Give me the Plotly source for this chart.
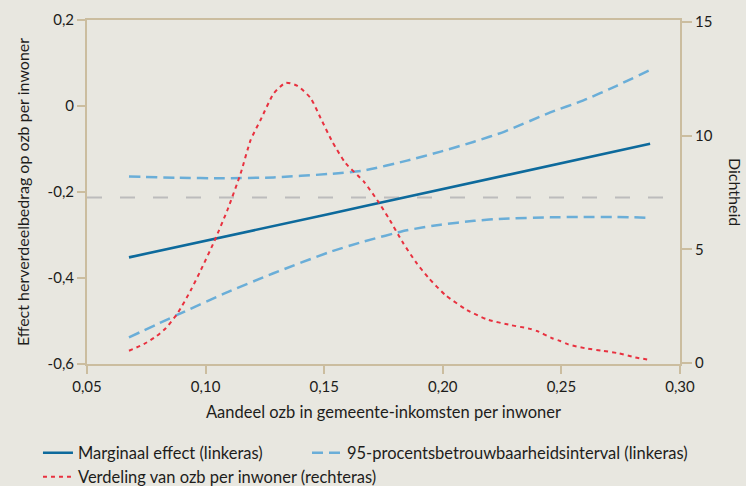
import plotly.graph_objects as go

# ---- data ----
share_x = [0.0677, 0.0880, 0.1075, 0.1286, 0.1521, 0.1668, 0.1849, 0.1991,
           0.2132, 0.2258, 0.2453, 0.2593, 0.2733, 0.2874]
marginal = [-0.352, -0.328, -0.304, -0.279, -0.251, -0.233, -0.211, -0.194,
            -0.177, -0.162, -0.139, -0.122, -0.105, -0.088]
ci_upper = [-0.164, -0.167, -0.168, -0.166, -0.158, -0.150, -0.127, -0.106,
            -0.083, -0.060, -0.015, 0.013, 0.047, 0.084]
ci_lower = [-0.538, -0.486, -0.437, -0.389, -0.340, -0.315, -0.289, -0.276,
            -0.267, -0.262, -0.259, -0.258, -0.258, -0.260]

dens_x = [0.0677, 0.0741, 0.0790, 0.0832, 0.0882, 0.0938, 0.0980, 0.1036,
          0.1092, 0.1148, 0.1190, 0.1232, 0.1288, 0.1338, 0.1387, 0.1443,
          0.1485, 0.1534, 0.1590, 0.1667, 0.1723, 0.1772, 0.1829, 0.1885,
          0.1941, 0.2011, 0.2102, 0.2186, 0.2285, 0.2361, 0.2397, 0.2461,
          0.2495, 0.2529, 0.2600, 0.2672, 0.2739, 0.2810, 0.2874]
density = [0.54, 0.84, 1.16, 1.53, 2.19, 3.21, 4.09, 5.34,
           6.73, 8.35, 9.81, 10.70, 11.87, 12.33, 12.19, 11.65,
           10.77, 9.74, 8.79, 7.98, 7.17, 6.37, 5.34, 4.46,
           3.73, 2.99, 2.33, 1.92, 1.67, 1.52, 1.41, 1.09,
           0.97, 0.82, 0.65, 0.54, 0.43, 0.25, 0.13]

ref_level = -0.213

x_ticks = [0.05, 0.10, 0.15, 0.20, 0.25, 0.30]
x_ticklabels = ["0,05", "0,10", "0,15", "0,20", "0,25", "0,30"]
y_ticks = [-0.6, -0.4, -0.2, 0, 0.2]
y_ticklabels = ["-0,6", "-0,4", "-0,2", "0", "0,2"]
y2_ticks = [0, 5, 10, 15]
y2_ticklabels = ["0", "5", "10", "15"]

# ---- styles ----
BG = "#e8e7e0"
AXIS = "#cbbd9f"
TXT = "#1d1d1b"
FONT = "Lato"

fig = go.Figure()

fig.add_trace(go.Scatter(
    x=share_x, y=marginal, mode="lines", name="Marginaal effect (linkeras)",
    line=dict(color="#0d6a9c", width=2.6), legend="legend"))
fig.add_trace(go.Scatter(
    x=share_x, y=ci_upper, mode="lines", name="95-procentsbetrouwbaarheidsinterval (linkeras)",
    line=dict(color="#6aaed8", width=2.5, dash="11px,6px", shape="spline", smoothing=0.6),
    legend="legend2"))
fig.add_trace(go.Scatter(
    x=share_x, y=ci_lower, mode="lines", name="95-procentsbetrouwbaarheidsinterval (linkeras)",
    line=dict(color="#6aaed8", width=2.5, dash="11px,6px", shape="spline", smoothing=0.6),
    showlegend=False, legend="legend2"))
fig.add_trace(go.Scatter(
    x=dens_x, y=density, mode="lines", name="Verdeling van ozb per inwoner (rechteras)",
    line=dict(color="#e8313f", width=2, dash="4px,4px", shape="spline", smoothing=0.6),
    yaxis="y2", legend="legend3"))

fig.add_shape(type="line", xref="paper", x0=0, x1=1, yref="y", y0=ref_level, y1=ref_level,
              line=dict(color="#bcbcbc", width=2, dash="15px,18px"), layer="below")

fig.add_annotation(text="Dichtheid", xref="paper", yref="paper", x=1.0944, y=0.5,
                   textangle=90, showarrow=False, font=dict(size=16, color=TXT, family=FONT),
                   xanchor="center", yanchor="middle")

legend_common = dict(orientation="h", xanchor="left", yanchor="middle",
                     xref="container", yref="container",
                     bgcolor="rgba(0,0,0,0)", font=dict(size=16.5, color=TXT, family=FONT),
                     itemwidth=30)

fig.update_layout(
    width=746, height=486,
    margin=dict(l=87, r=66, t=20, b=122, autoexpand=False),
    paper_bgcolor=BG, plot_bgcolor=BG,
    font=dict(family=FONT, color=TXT, size=15),
    showlegend=True,
    legend=dict(x=0.0509, y=0.0679, **legend_common),
    legend2=dict(x=0.4115, y=0.0679, **legend_common),
    legend3=dict(x=0.0509, y=0.0185, **legend_common),
    xaxis=dict(range=[0.05, 0.30], tickvals=x_ticks, ticktext=x_ticklabels,
               showgrid=False, zeroline=False, showline=True, linecolor=AXIS, linewidth=2,
               mirror=True, ticks="outside", ticklen=8, tickwidth=1.5, tickcolor=AXIS,
               tickfont=dict(size=15, color=TXT),
               title=dict(text="Aandeel ozb in gemeente-inkomsten per inwoner",
                          font=dict(size=16.5, color=TXT), standoff=12)),
    yaxis=dict(range=[-0.6, 0.2], tickvals=y_ticks, ticktext=y_ticklabels,
               showgrid=False, zeroline=False, showline=True, linecolor=AXIS, linewidth=2,
               ticks="outside", ticklen=8, tickwidth=1.5, tickcolor=AXIS,
               tickfont=dict(size=15, color=TXT),
               title=dict(text="Effect herverdeelbedrag op ozb per inwoner",
                          font=dict(size=16, color=TXT), standoff=14)),
    yaxis2=dict(range=[-0.044, 15.088], tickvals=y2_ticks, ticktext=y2_ticklabels,
                overlaying="y", side="right",
                showgrid=False, zeroline=False, showline=True, linecolor=AXIS, linewidth=2,
                ticks="outside", ticklen=10, tickwidth=1.5, tickcolor=AXIS,
                tickfont=dict(size=15, color=TXT)),
)

fig.write_html(
    "out.html",
    config={"displayModeBar": False},
    post_script="document.body.style.margin='0';document.body.style.overflow='hidden';",
)
